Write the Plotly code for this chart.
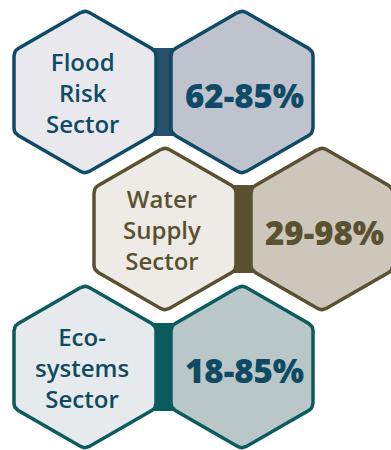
import math
import plotly.graph_objects as go

# ---- data ----
sectors = ["Flood<br>Risk<br>Sector", "Water<br>Supply<br>Sector", "Eco-<br>systems<br>Sector"]
range_low = [62, 29, 18]
range_high = [85, 98, 85]

# ---- styles ----
border_cols = ["#0f4a66", "#5a5130", "#0c5b5e"]
bar_cols = ["#284f6c", "#5a5130", "#0a5b5b"]
label_fills = ["#e9e9ed", "#eeebe7", "#e7eaec"]
value_fills = ["#bfc3ce", "#ccc6bb", "#b9c7c8"]
text_cols = ["#0f4a66", "#5a5130", "#0f4a62"]

# ---- layout geometry (pixels) ----
W, H = 391, 450
R = 82          # hexagon circumradius
row_y = [92, 229, 367]
left_x = [85, 165, 85]
gap = 157       # center distance between paired hexagons
tangent = 5     # corner rounding distance along edges


def rounded_hex(cx, cy, r, d, n=6):
    verts = []
    for k in range(6):
        a = math.radians(-90 + 60 * k)
        verts.append((cx + r * math.cos(a), cy + r * math.sin(a)))

    def unit(a, b):
        dx, dy = b[0] - a[0], b[1] - a[1]
        L = math.hypot(dx, dy)
        return dx / L, dy / L

    xs, ys = [], []
    for k in range(6):
        p0 = verts[k - 1]
        p1 = verts[k]
        p2 = verts[(k + 1) % 6]
        u1 = unit(p1, p0)
        u2 = unit(p1, p2)
        s = (p1[0] + u1[0] * d, p1[1] + u1[1] * d)
        e = (p1[0] + u2[0] * d, p1[1] + u2[1] * d)
        for i in range(n + 1):
            t = i / n
            x = (1 - t) ** 2 * s[0] + 2 * (1 - t) * t * p1[0] + t ** 2 * e[0]
            y = (1 - t) ** 2 * s[1] + 2 * (1 - t) * t * p1[1] + t ** 2 * e[1]
            xs.append(x)
            ys.append(y)
    xs.append(xs[0])
    ys.append(ys[0])
    return xs, ys


fig = go.Figure()
annotations = []

for i in range(len(sectors)):
    cy = row_y[i]
    lx = left_x[i]
    rx = lx + gap
    half_w = R * math.sqrt(3) / 2
    # connecting bar
    bx0, bx1 = lx + half_w - 3, rx - half_w + 3
    by0, by1 = cy - R / 2 - 3, cy + R / 2 + 3
    fig.add_trace(go.Scatter(
        x=[bx0, bx1, bx1, bx0, bx0],
        y=[by0, by0, by1, by1, by0],
        mode="lines", fill="toself", fillcolor=bar_cols[i],
        line=dict(width=0, color=bar_cols[i]), hoverinfo="skip", showlegend=False))
    for cx, fillc in ((lx, label_fills[i]), (rx, value_fills[i])):
        xs, ys = rounded_hex(cx, cy, R, tangent)
        fig.add_trace(go.Scatter(
            x=xs, y=ys, mode="lines", fill="toself", fillcolor=fillc,
            line=dict(width=3.5, color=border_cols[i]), hoverinfo="skip",
            showlegend=False))
    annotations.append(dict(
        x=lx - 3, y=cy, xref="x", yref="y", text=sectors[i], showarrow=False,
        font=dict(family="Open Sans", size=24, color=text_cols[i], weight=600),
        align="center", xanchor="center", yanchor="middle"))
    annotations.append(dict(
        x=rx + 2, y=cy + 3, xref="x", yref="y",
        text=f"{range_low[i]}-{range_high[i]}%", showarrow=False,
        font=dict(family="Open Sans", size=33, color=text_cols[i], weight=800),
        xanchor="center", yanchor="middle"))

fig.update_layout(
    width=W, height=H,
    margin=dict(l=0, r=0, t=0, b=0),
    paper_bgcolor="white", plot_bgcolor="white",
    xaxis=dict(range=[0, W], visible=False, fixedrange=True),
    yaxis=dict(range=[H, 0], visible=False, fixedrange=True),
    annotations=annotations,
    showlegend=False,
)

fig.write_html("out.html", config={"displayModeBar": False})
